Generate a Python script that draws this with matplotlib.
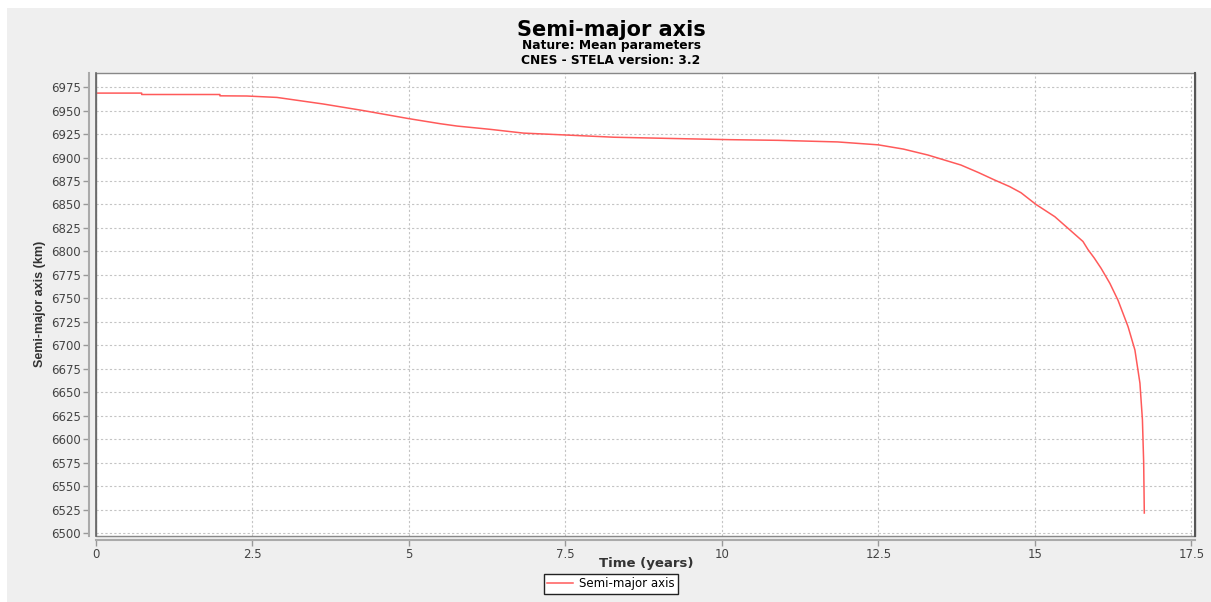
"""
Semi-major axis decay plot (STELA style output), redrawn with matplotlib.
"""

import matplotlib
matplotlib.use("Agg")
import matplotlib.pyplot as plt
from matplotlib.patches import Rectangle

time_years = [0, 0.73, 0.73, 1.98, 1.98, 2.41, 2.89, 3.63, 4.27, 4.99,
              5.5, 5.77, 6.3, 6.83, 7.5, 8.28, 9.4, 10.14, 10.9, 11.85,
              12.5, 12.9, 13.29, 13.82, 14.1, 14.36, 14.6, 14.78, 15.02,
              15.32, 15.53, 15.77, 15.85, 15.95, 16.06, 16.2, 16.33, 16.49,
              16.6, 16.68, 16.72, 16.74, 16.75]
sma_km = [6968.6, 6968.6, 6967.1, 6967.1, 6965.7, 6965.5, 6964, 6957, 6950,
          6941.5, 6936, 6933.5, 6930, 6926, 6924, 6921.6, 6920, 6919, 6918.3,
          6916.6, 6913.5, 6909, 6902.7, 6892, 6884, 6876, 6869, 6862.5,
          6850, 6837, 6824.7, 6810.6, 6802, 6793, 6782, 6766, 6748, 6720,
          6695, 6659.8, 6620.7, 6574.7, 6521.5]

x_ticks = [0, 2.5, 5, 7.5, 10, 12.5, 15, 17.5]
y_ticks = list(range(6500, 7000, 25))

W, H = 1211, 602
fig = plt.figure(figsize=(W / 100, H / 100), dpi=100)
fig.patch.set_facecolor("white")
fig.patches.append(Rectangle((7 / W, 0), 1, (H - 8) / H, transform=fig.transFigure,
                             facecolor="#efefef", edgecolor="none", zorder=-10))

ax = fig.add_axes([96 / W, 66 / H, 1099 / W, 463 / H])
ax.set_facecolor("white")
ax.plot(time_years, sma_km, color="#ff5a5a", lw=1.1, label="Semi-major axis", zorder=3)

ax.set_xlim(0, 17.56)
ax.set_ylim(6497, 6990)
ax.set_xticks(x_ticks)
ax.set_xticklabels([f"{t:g}" for t in x_ticks])
ax.set_yticks(y_ticks)

ax.grid(True, color="#c4c4c4", linestyle=(0, (2, 2)), linewidth=0.8)
ax.tick_params(axis="both", labelsize=8.5, labelcolor="#444444", color="#999999",
               length=4, width=1, direction="out", pad=2)

# axis lines offset from the plot border, like JFreeChart
for side in ("top", "right"):
    ax.spines[side].set_visible(False)
ax.spines["left"].set_position(("outward", 5))
ax.spines["bottom"].set_position(("outward", 3))
for side in ("left", "bottom"):
    ax.spines[side].set_color("#aaaaaa")
    ax.spines[side].set_linewidth(1.5)
ax.add_patch(Rectangle((0, 0), 1, 1, transform=ax.transAxes, fill=False,
                       edgecolor="#888888", lw=1.0, clip_on=False, zorder=4))
ax.plot([1, 1], [0, 1], transform=ax.transAxes, color="#555555", lw=1.5,
        clip_on=False, zorder=5)
ax.plot([0, 0], [0, 1], transform=ax.transAxes, color="#666666", lw=1.2,
        clip_on=False, zorder=5)

fig.text(646 / W, 1 - 563 / H, "Time (years)", ha="center", va="center",
         fontsize=9.5, fontweight="bold", color="#333333")
fig.text(40 / W, 1 - 304 / H, "Semi-major axis (km)", ha="center", va="center",
         rotation=90, fontsize=9, fontweight="bold", color="#333333",
         family=["Liberation Sans Narrow", "Liberation Sans", "DejaVu Sans"])

fig.text(611 / W, 1 - 30 / H, "Semi-major axis", ha="center", va="center",
         fontsize=15, fontweight="bold")
fig.text(611 / W, 1 - 45 / H, "Nature: Mean parameters", ha="center", va="center",
         fontsize=8.8, fontweight="bold")
fig.text(611 / W, 1 - 60 / H, "CNES - STELA version: 3.2", ha="center", va="center",
         fontsize=8.8, fontweight="bold")

leg = fig.legend(loc="center", bbox_to_anchor=(611 / W, 1 - 584 / H), fontsize=8.5,
                 fancybox=False, framealpha=1, edgecolor="#222222",
                 handlelength=2.2, borderpad=0.3, handletextpad=0.5)
leg.get_frame().set_linewidth(1.0)

fig.savefig("out.png", dpi=100)
